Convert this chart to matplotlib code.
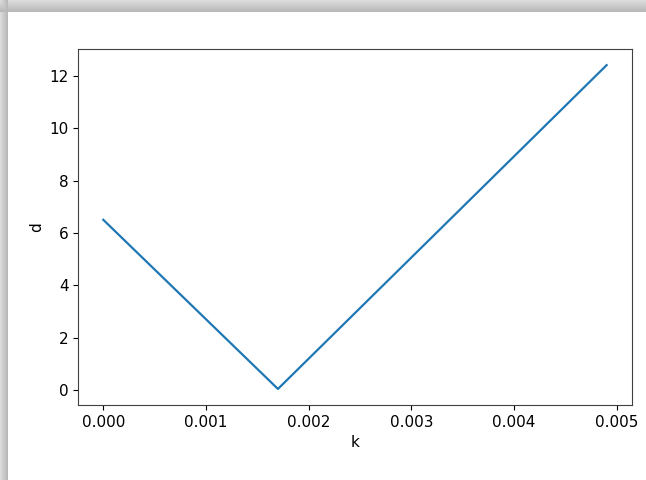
import matplotlib
matplotlib.use("Agg")
import matplotlib.pyplot as plt
import numpy as np

# valores
k = [0.0, 0.0017, 0.0049]
d = [6.5, 0.05, 12.4]

fig = plt.figure(figsize=(6.46, 4.8), dpi=100)

# sombra gris del recorte de pantalla (arriba e izquierda)
fondo = np.ones((480, 646))
fondo[:12, :] = np.linspace(0.86, 0.72, 12)[:, None]
fondo[:, :8] = np.minimum(fondo[:, :8], np.linspace(0.86, 0.72, 8)[None, :])
bg = fig.add_axes([0, 0, 1, 1], zorder=-1)
bg.imshow(fondo, cmap="gray", vmin=0, vmax=1, aspect="auto", interpolation="bilinear")
bg.axis("off")

ax = fig.add_axes([0.121, 0.156, 0.857, 0.742])
ax.plot(k, d, color="#1f77b4", lw=1.6)
ax.set_xlabel("k", fontsize=11)
ax.set_ylabel("d", fontsize=11)
ax.set_xticks([0.000, 0.001, 0.002, 0.003, 0.004, 0.005])
ax.set_xticklabels(["0.000", "0.001", "0.002", "0.003", "0.004", "0.005"])
ax.set_yticks([0, 2, 4, 6, 8, 10, 12])
ax.tick_params(labelsize=11)
for s in ax.spines.values():
    s.set_color("0.25")

fig.savefig("out.png", dpi=100)
